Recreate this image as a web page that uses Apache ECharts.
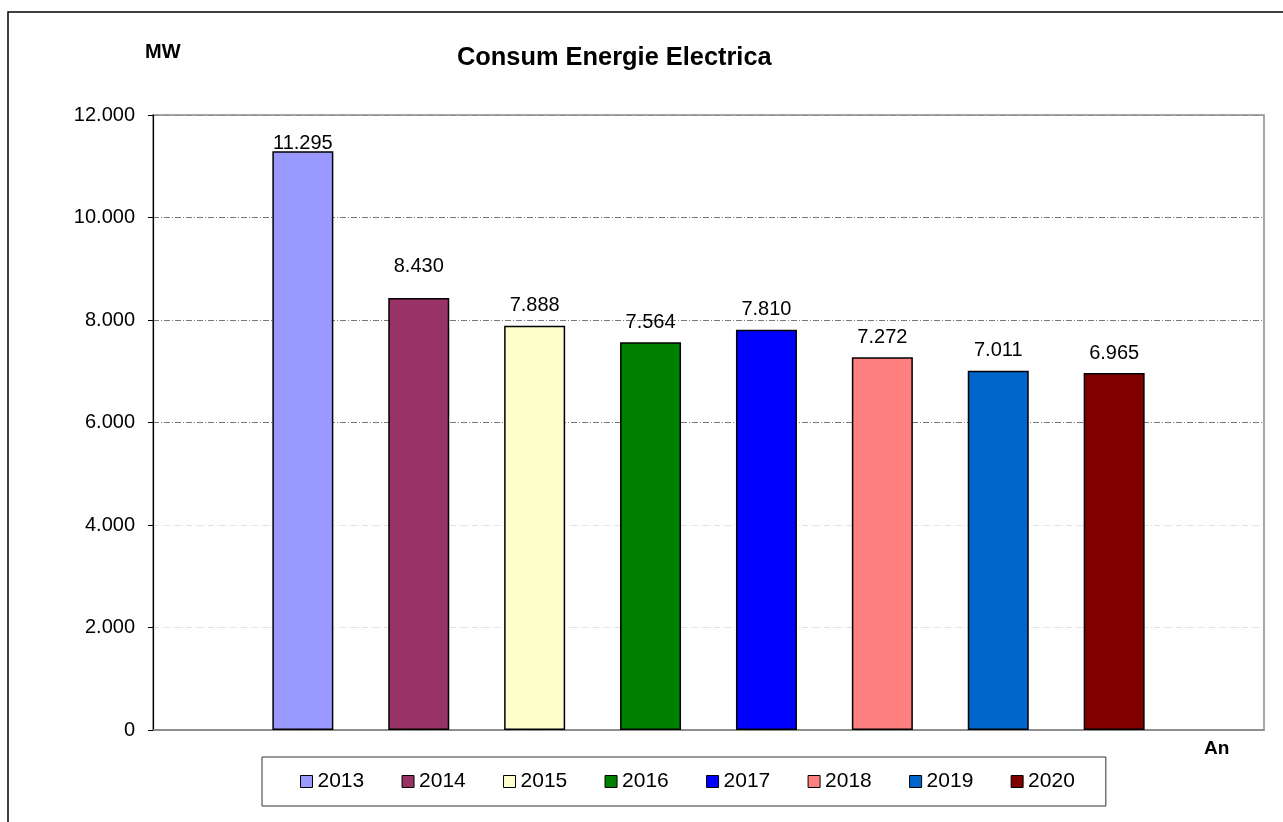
<!DOCTYPE html>
<html>
<head>
<meta charset="utf-8">
<script src="https://cdn.jsdelivr.net/npm/echarts@6/dist/echarts.min.js"></script>
<style>
html,body{margin:0;padding:0;background:#fff;}
#chart{width:1283px;height:822px;}
</style>
</head>
<body>
<div id="chart"></div>
<script>
// ---- data ----
const years = ['2013','2014','2015','2016','2017','2018','2019','2020'];
const consumption = [11295, 8430, 7888, 7564, 7810, 7272, 7011, 6965];
const yTicks = [0, 2000, 4000, 6000, 8000, 10000, 12000];

// ---- styling ----
const palette = ['#9999FF','#993366','#FFFFCC','#008000','#0000FF','#FF8080','#0066CC','#800000'];
const labelDistance = [-2, 21, 10, 10, 10, 10, 10, 10];
const FONT = 'Liberation Sans, Arial, sans-serif';

function fmt(v){
  return String(v).replace(/\B(?=(\d{3})+(?!\d))/g, '.');
}

const chart = echarts.init(document.getElementById('chart'), null, {renderer:'canvas'});

const series = years.map((y, i) => ({
  name: y,
  type: 'bar',
  data: [consumption[i]],
  barWidth: 61,
  barGap: '90%',
  itemStyle: {color: palette[i], borderColor: '#000', borderWidth: 1.5},
  label: {
    show: true,
    position: 'top',
    distance: labelDistance[i],
    formatter: p => fmt(p.value),
    color: '#000',
    fontFamily: FONT,
    fontSize: 20
  },
  emphasis: {disabled: true},
  animation: false
}));

chart.setOption({
  animation: false,
  backgroundColor: '#fff',
  title: {
    text: 'Consum Energie Electrica',
    left: 457,
    top: 45,
    padding: 0,
    textStyle: {fontFamily: FONT, fontSize: 25.4, fontWeight: 'bold', color: '#000'}
  },
  grid: {
    left: 153, right: 19, top: 115, bottom: 92,
    show: true, borderColor: '#8a8a8a', borderWidth: 1.5, backgroundColor: '#fff'
  },
  legend: {
    data: years,
    left: 262,
    top: 757,
    padding: [14, 31, 14, 38],
    itemGap: 37.3,
    itemWidth: 12,
    itemHeight: 12,
    icon: 'rect',
    borderColor: '#333',
    borderWidth: 1,
    itemStyle: {borderColor: '#000', borderWidth: 1},
    textStyle: {fontFamily: FONT, fontSize: 21, color: '#000'},
    selectedMode: false
  },
  xAxis: {
    type: 'category',
    data: [''],
    axisLine: {show: true, lineStyle: {color: '#8a8a8a', width: 1.5}},
    axisTick: {show: false},
    axisLabel: {show: false},
    splitLine: {show: false}
  },
  yAxis: {
    type: 'value',
    min: yTicks[0],
    max: yTicks[yTicks.length - 1],
    interval: yTicks[1] - yTicks[0],
    axisLine: {show: true, lineStyle: {color: '#000', width: 1.2}},
    axisTick: {show: true, inside: false, length: 5, lineStyle: {color: '#000'}},
    axisLabel: {
      margin: 18,
      formatter: v => fmt(v),
      color: '#000',
      fontFamily: FONT,
      fontSize: 20
    },
    splitLine: {
      show: true,
      lineStyle: {
        color: ['#8a8a8a','#e2e2e2','#e2e2e2','#7a7a7a','#7a7a7a','#7a7a7a','#8a8a8a'],
        width: 1,
        type: [6, 2, 1, 2]
      }
    }
  },
  graphic: [
    {type: 'rect', x: 0, y: 0, shape: {x: 8, y: 12, width: 1400, height: 900},
     style: {fill: 'none', stroke: '#000', lineWidth: 1.5}, silent: true, z: 100},
    {type: 'text', left: 145, top: 42,
     style: {text: 'MW', font: 'bold 20px ' + FONT, fill: '#000'}},
    {type: 'text', left: 1204, top: 739,
     style: {text: 'An', font: 'bold 19px ' + FONT, fill: '#000'}}
  ],
  series: series
});
</script>
</body>
</html>
